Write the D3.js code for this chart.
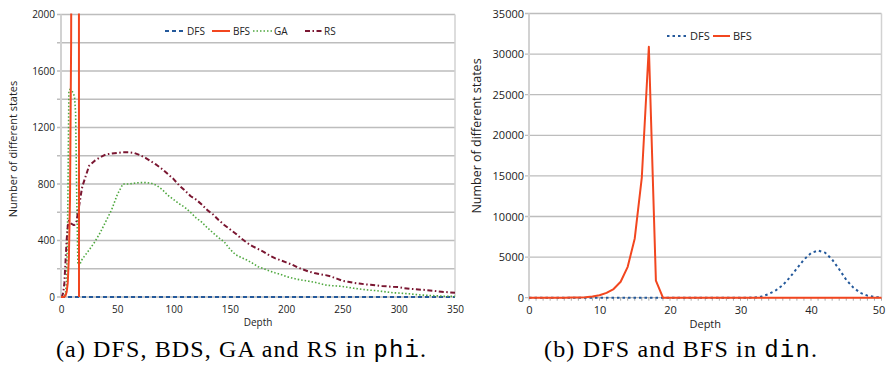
<!DOCTYPE html>
<html><head><meta charset="utf-8">
<script src="https://cdn.jsdelivr.net/npm/d3@7/dist/d3.min.js"></script>
<style>body{margin:0;background:#fff}svg{display:block}</style>
</head><body><svg id="c" width="886" height="366"></svg>
<script>
// ---------- data: (a) phi ----------
const phiDepth = [0,1,2,3,4,5,6,7,8,9,10,11,12,13,14,15,16,17,18,19,
  20,25,30,35,40,45,50,55,60,65,70,75,80,85,90,95,100,105,110,115,
  120,125,130,135,140,145,150,155,160,165,170,175,180,185,190,195,200,205,210,215,
  220,225,230,235,240,245,250,255,260,265,270,275,280,285,290,295,300,305,310,315,
  320,325,330,335,340,345,350];
const phiGA = [0,0,5,10,25,120,600,1460,1470,1465,1455,1440,1420,1300,700,230,220,235,255,270,
  280,333,390,458,538,618,725,800,800,805,810,810,805,790,760,720,690,660,635,600,
  560,530,490,455,420,390,340,300,280,262,240,215,200,185,172,160,145,135,125,118,
  112,105,95,85,80,78,75,68,62,57,52,48,45,40,35,30,28,25,22,18,
  14,12,10,8,6,5,4];
const phiRS = [0,5,30,100,250,400,500,540,530,520,515,510,510,520,540,600,640,690,740,785,
  808,930,965,990,1010,1015,1020,1025,1025,1020,1005,985,960,935,905,870,835,790,755,715,
  690,655,615,585,545,510,480,450,415,385,360,340,320,295,275,260,245,230,210,195,
  180,170,162,155,145,130,115,108,100,95,90,87,82,78,75,72,70,62,58,55,
  52,48,45,40,36,33,30];
const phiBfsDepth = [0,1,2,3,4,5,6,7,8,9,10,11,12,13,14,15,16];
const phiBFS = [0,0,0,2,10,35,100,280,700,1800,5000,12000,25000,40000,50000,30000,0];
const phiDfsDepth = [0,350];
const phiDFS = [0,0];
const phiYTicks = [0,400,800,1200,1600,2000];
const phiGrid = [0,200,400,600,800,1000,1200,1400,1600,1800,2000];
const phiXTicks = [0,50,100,150,200,250,300,350];
const phiLegend = ["DFS","BFS","GA","RS"];

// ---------- data: (b) din ----------
const dinDepth = [0,1,2,3,4,5,6,7,8,9,10,11,12,13,14,15,16,17,18,19,20,21,22,23,24,25,
  26,27,28,29,30,31,32,33,34,35,36,37,38,39,40,41,42,43,44,45,46,47,48,49,50];
const dinBFS = [0,0,0,0,0,3,10,30,70,150,300,600,1070,1960,3800,7300,14800,30900,2100,0,0,0,0,0,0,0,
  0,0,0,0,0,0,0,0,0,0,0,0,0,0,0,0,0,0,0,0,0,0,0,0,0];
const dinDFS = [0,0,0,0,0,0,0,0,0,0,0,0,0,0,0,0,0,0,0,0,0,0,0,0,0,0,
  0,0,0,0,0,0,20,150,450,900,1550,2500,3600,4700,5500,5800,5550,4700,3500,2200,1250,600,250,80,20];
const dinYTicks = [0,5000,10000,15000,20000,25000,30000,35000];
const dinXTicks = [0,10,20,30,40,50];
const dinLegend = ["DFS","BFS"];

const captionA = ["(a) DFS, BDS, GA and RS in ", "phi", "."];
const captionB = ["(b) DFS and BFS in ", "din", "."];
const yTitle = "Number of different states";
const xTitle = "Depth";

// ---------- styles ----------
const COL = {DFS:"#24599b", BFS:"#f2461f", GA:"#4fa83f", RS:"#7a1631"};
const SANS = "'Open Sans', 'Noto Sans', sans-serif";
const svg = d3.select("#c");
const gridCol = "#bdbdbd", axisCol = "#d2d2d2", txtCol = "#222";
const fmt = d3.format("d");

function zip(a,b){ return a.map((v,i)=>[v,b[i]]); }

function panel(o){
  const g = svg.append("g");
  const x = d3.scaleLinear().domain(o.xd).range([o.x0,o.x1]);
  const y = d3.scaleLinear().domain(o.yd).range([o.y0,o.y1]);
  g.selectAll("line.grid").data(o.grid).join("line")
    .attr("x1",o.x0-4).attr("x2",o.x1).attr("y1",d=>y(d)).attr("y2",d=>y(d))
    .attr("stroke",gridCol).attr("stroke-width",1.3);
  g.append("line").attr("x1",o.x0).attr("x2",o.x0).attr("y1",o.y1).attr("y2",o.y0)
    .attr("stroke",axisCol).attr("stroke-width",2);
  g.append("line").attr("x1",o.x1).attr("x2",o.x1).attr("y1",o.y1).attr("y2",o.y0)
    .attr("stroke",axisCol).attr("stroke-width",1.5);
  if (o.minor){
    g.selectAll("line.minor").data(o.minor).join("line")
      .attr("x1",d=>x(d)).attr("x2",d=>x(d)).attr("y1",o.y0).attr("y2",o.y0+3)
      .attr("stroke","#aaa").attr("stroke-width",1);
  }
  const ya = g.append("g").attr("transform",`translate(${o.x0},0)`)
    .call(d3.axisLeft(y).tickValues(o.yt).tickFormat(fmt).tickSize(0).tickPadding(o.ypad));
  ya.select(".domain").remove();
  ya.selectAll("text").attr("font-family",SANS).attr("font-size",o.fs).attr("fill",txtCol);
  const xa = g.append("g").attr("transform",`translate(0,${o.y0})`)
    .call(d3.axisBottom(x).tickValues(o.xt).tickFormat(fmt).tickSize(0).tickPadding(o.xpad));
  xa.select(".domain").remove();
  xa.selectAll("text").attr("font-family",SANS).attr("font-size",o.fs).attr("fill",txtCol);
  if (o.lastShift) xa.selectAll("text").filter(d=>d===o.xd[1]).attr("dx",o.lastShift);
  g.append("text").attr("x",(o.x0+o.x1)/2).attr("y",o.xtY).attr("text-anchor","middle")
    .attr("font-family",SANS).attr("font-size",o.fs).attr("fill",txtCol).text(xTitle);
  g.append("text").attr("transform",`translate(${o.ytX},${o.ytYc}) rotate(-90)`)
    .attr("text-anchor","middle").attr("font-family",SANS).attr("font-size",o.tfs)
    .attr("fill",txtCol).text(yTitle);
  const cid = "clip"+o.id;
  svg.append("clipPath").attr("id",cid).append("rect")
    .attr("x",o.x0).attr("y",o.y1-1).attr("width",o.x1-o.x0+2).attr("height",o.y0-o.y1+4);
  const lg = g.append("g").attr("clip-path",`url(#${cid})`);
  const line = d3.line().x(d=>x(d[0])).y(d=>y(d[1]));
  o.series.forEach(s=>{
    lg.append("path").attr("d",line(zip(s.xs,s.ys))).attr("fill","none")
      .attr("stroke",COL[s.name]).attr("stroke-width",s.w)
      .attr("stroke-dasharray",s.dash||null).attr("stroke-linejoin","round");
  });
  o.legend.forEach(l=>{
    const s = o.series.find(t=>t.name===l.name);
    g.append("line").attr("x1",l.lx0).attr("x2",l.lx1).attr("y1",o.legY).attr("y2",o.legY)
      .attr("stroke",COL[l.name]).attr("stroke-width",s.w).attr("stroke-dasharray",s.dash||null);
    g.append("text").attr("x",l.tx).attr("y",o.legY).attr("dy","0.35em")
      .attr("font-family",SANS).attr("font-size",o.fs).attr("fill",txtCol).text(l.name);
  });
}

panel({id:"a", xd:[0,350], yd:[0,2000], x0:61, x1:455, y0:297, y1:14.5,
  grid:phiGrid, yt:phiYTicks, xt:phiXTicks, fs:10, tfs:11, ypad:6, xpad:9,
  xtY:326, ytX:17, ytYc:149, legY:31,
  series:[
    {name:"DFS", xs:phiDfsDepth, ys:phiDFS, w:2, dash:"4,3"},
    {name:"GA", xs:phiDepth, ys:phiGA, w:1.6, dash:"1.5,2"},
    {name:"RS", xs:phiDepth, ys:phiRS, w:2, dash:"5,2.5,1.5,2.5"},
    {name:"BFS", xs:phiBfsDepth, ys:phiBFS, w:2}
  ],
  legend:[
    {name:phiLegend[0], lx0:165, lx1:184, tx:187},
    {name:phiLegend[1], lx0:212, lx1:230, tx:233},
    {name:phiLegend[2], lx0:253, lx1:272, tx:274},
    {name:phiLegend[3], lx0:305, lx1:322, tx:324}
  ]});

panel({id:"b", xd:[0,50], yd:[0,35000], x0:529, x1:881.5, y0:297.7, y1:13.5,
  grid:dinYTicks, yt:dinYTicks, xt:dinXTicks, fs:11, tfs:12.5, ypad:5, xpad:9,
  minor:dinDepth, lastShift:-3,
  xtY:328, ytX:481, ytYc:136, legY:36,
  series:[
    {name:"DFS", xs:dinDepth, ys:dinDFS, w:2, dash:"2.5,3"},
    {name:"BFS", xs:dinDepth, ys:dinBFS, w:2}
  ],
  legend:[
    {name:dinLegend[0], lx0:667, lx1:686, tx:690},
    {name:dinLegend[1], lx0:713, lx1:730, tx:733}
  ]});

function caption(parts, x, len){
  const t = svg.append("text").attr("x",x).attr("y",357)
    .attr("font-family","'Liberation Serif', 'Times New Roman', serif").attr("font-size",24)
    .attr("fill","#000").attr("textLength",len);
  t.append("tspan").text(parts[0]);
  t.append("tspan").attr("font-family","'Liberation Mono', monospace").text(parts[1]);
  t.append("tspan").text(parts[2]);
}
caption(captionA, 56, 370);
caption(captionB, 544, 273);
</script></body></html>
